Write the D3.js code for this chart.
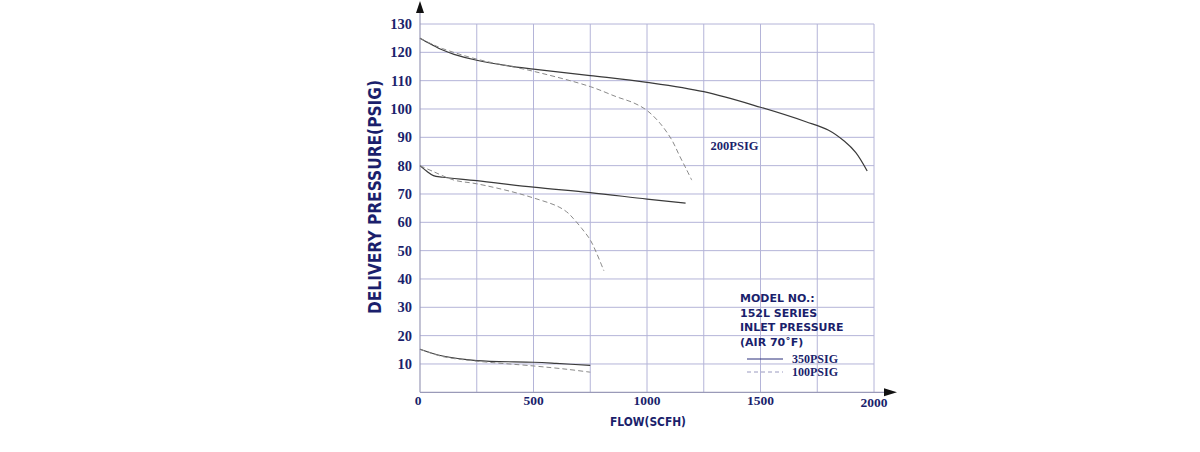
<!DOCTYPE html>
<html>
<head>
<meta charset="utf-8">
<script src="https://cdn.jsdelivr.net/npm/d3@7"></script>
<style>
html,body{margin:0;padding:0;background:#fff;}
svg{display:block;}
</style>
</head>
<body>
<svg id="chart" width="1200" height="452"></svg>
<script>
// ---- data ----
const flowTicks = [0, 500, 1000, 1500, 2000];
const flowGrid = [250, 500, 750, 1000, 1250, 1500, 1750, 2000];
const pressureTicks = [10, 20, 30, 40, 50, 60, 70, 80, 90, 100, 110, 120, 130];

// solid = 350PSIG inlet, dashed = 100PSIG inlet
const highSolid = [[0,125],[50,122.8],[100,120.8],[150,119.3],[250,117.2],[375,115.4],[500,114.1],[750,111.8],[1000,109.4],[1250,106.1],[1500,100.6],[1700,95.5],[1800,92.5],[1870,88.6],[1920,84.6],[1970,78.1]];
const highDashed = [[0,125],[50,123],[100,121.3],[250,117.6],[500,113.3],[750,107.9],[866,104.3],[940,102.2],[998,99.6],[1057,95],[1109,89.1],[1145,83.2],[1175,78.5],[1197,74.9]];
const midSolid = [[0,80],[30,78],[59,76.5],[100,75.9],[250,74.7],[500,72.4],[750,70.5],[1000,68.2],[1170,66.8]];
const midDashed = [[0,80],[59,77.9],[150,74.9],[250,73.6],[400,70.9],[500,68.6],[602,65.8],[646,63.7],[675,61.4],[712,57.9],[750,53.8],[778,49.1],[810,42.9]];
const lowSolid = [[0,15.2],[100,12.8],[250,11.2],[500,10.6],[600,10.2],[750,9.5]];
const lowDashed = [[0,15.2],[100,12.6],[250,11.0],[500,9.3],[650,8.1],[750,7.1]];

const legendLines = ["MODEL NO.:", "152L SERIES", "INLET PRESSURE", "(AIR 70˚F)"];
const legendSeries = [{label:"350PSIG", dashed:false}, {label:"100PSIG", dashed:true}];
const curveLabel = {text:"200PSIG", flow:1280, pressure:85.5};

// ---- drawing ----
const navy = "#1b1f6c";
const gridColor = "#b4b4d8";
const serif = "'Liberation Serif','DejaVu Serif',serif";
const sans = "'DejaVu Sans','Liberation Sans',sans-serif";

const svg = d3.select("#chart");
const x = d3.scaleLinear().domain([0, 2000]).range([420, 874]);
const y = d3.scaleLinear().domain([0, 130]).range([392.3, 24]);

// grid
svg.append("g").selectAll("line.v").data(flowGrid).join("line")
  .attr("x1", d => x(d)).attr("x2", d => x(d))
  .attr("y1", y(0)).attr("y2", y(130))
  .attr("stroke", gridColor).attr("stroke-width", 1);
svg.append("g").selectAll("line.h").data(pressureTicks).join("line")
  .attr("x1", x(0)).attr("x2", x(2000))
  .attr("y1", d => y(d)).attr("y2", d => y(d))
  .attr("stroke", gridColor).attr("stroke-width", 1);

// axes lines
svg.append("line").attr("x1", x(0)).attr("x2", x(0)).attr("y1", y(0)).attr("y2", 12)
  .attr("stroke", "#9a9ab8").attr("stroke-width", 1.2);
svg.append("line").attr("x1", x(0)).attr("x2", 886).attr("y1", y(0)).attr("y2", y(0))
  .attr("stroke", "#9a9ab8").attr("stroke-width", 1.2);
// arrows
svg.append("path").attr("d", `M${x(0)-4},13 L${x(0)},1 L${x(0)+4},13 Z`).attr("fill", "#111");
svg.append("path").attr("d", `M884,${y(0)-4} L897,${y(0)} L884,${y(0)+4} Z`).attr("fill", "#111");

// tick labels
svg.append("g").selectAll("text").data(pressureTicks).join("text")
  .attr("x", 412).attr("y", d => y(d) + 5)
  .attr("text-anchor", "end")
  .attr("font-family", serif).attr("font-weight", "bold").attr("font-size", 14.5)
  .attr("fill", navy).text(d => d);
svg.append("g").selectAll("text").data(flowTicks).join("text")
  .attr("x", d => x(d) - (d === 0 ? 2 : 0)).attr("y", d => d === 2000 ? 407 : 405)
  .attr("text-anchor", "middle")
  .attr("font-family", serif).attr("font-weight", "bold").attr("font-size", 13.5)
  .attr("fill", navy).text(d => d);

// axis titles
svg.append("text")
  .attr("transform", "translate(381,197) rotate(-90)")
  .attr("text-anchor", "middle")
  .attr("font-family", sans).attr("font-weight", "bold").attr("font-size", 17)
  .attr("textLength", 234).attr("lengthAdjust", "spacingAndGlyphs")
  .attr("fill", navy).text("DELIVERY PRESSURE(PSIG)");
svg.append("text")
  .attr("x", 648).attr("y", 426).attr("text-anchor", "middle")
  .attr("font-family", sans).attr("font-weight", "bold").attr("font-size", 11.5)
  .attr("textLength", 76).attr("lengthAdjust", "spacingAndGlyphs")
  .attr("fill", navy).text("FLOW(SCFH)");

// curves
const line = d3.line().x(d => x(d[0])).y(d => y(d[1])).curve(d3.curveCatmullRom.alpha(0.5));
const curves = [
  {data: highSolid, dashed: false}, {data: highDashed, dashed: true},
  {data: midSolid, dashed: false}, {data: midDashed, dashed: true},
  {data: lowSolid, dashed: false}, {data: lowDashed, dashed: true}
];
svg.append("g").selectAll("path").data(curves).join("path")
  .attr("d", d => line(d.data))
  .attr("fill", "none")
  .attr("stroke", d => d.dashed ? "#8a8a8a" : "#3a3a3a")
  .attr("stroke-width", d => d.dashed ? 1 : 1.2)
  .attr("stroke-dasharray", d => d.dashed ? "5,3" : null);

// curve label
svg.append("text").attr("x", x(curveLabel.flow)).attr("y", y(curveLabel.pressure))
  .attr("font-family", serif).attr("font-weight", "bold").attr("font-size", 12.5)
  .attr("fill", navy).text(curveLabel.text);

// legend
const lg = svg.append("g");
lg.selectAll("text.h").data(legendLines).join("text")
  .attr("x", 740).attr("y", (d, i) => 302 + i * 14.7)
  .attr("font-family", sans).attr("font-weight", "bold").attr("font-size", 11)
  .attr("fill", navy).text(d => d);
lg.selectAll("line").data(legendSeries).join("line")
  .attr("x1", 747).attr("x2", 783)
  .attr("y1", (d, i) => 359 + i * 13).attr("y2", (d, i) => 359 + i * 13)
  .attr("stroke", d => d.dashed ? "#9a9ac0" : "#2a2f7a")
  .attr("stroke-width", 1)
  .attr("stroke-dasharray", d => d.dashed ? "4,3" : null);
lg.selectAll("text.s").data(legendSeries).join("text")
  .attr("x", 792).attr("y", (d, i) => 363 + i * 13)
  .attr("font-family", serif).attr("font-weight", "bold").attr("font-size", 12)
  .attr("fill", navy).text(d => d.label);
</script>
</body>
</html>
